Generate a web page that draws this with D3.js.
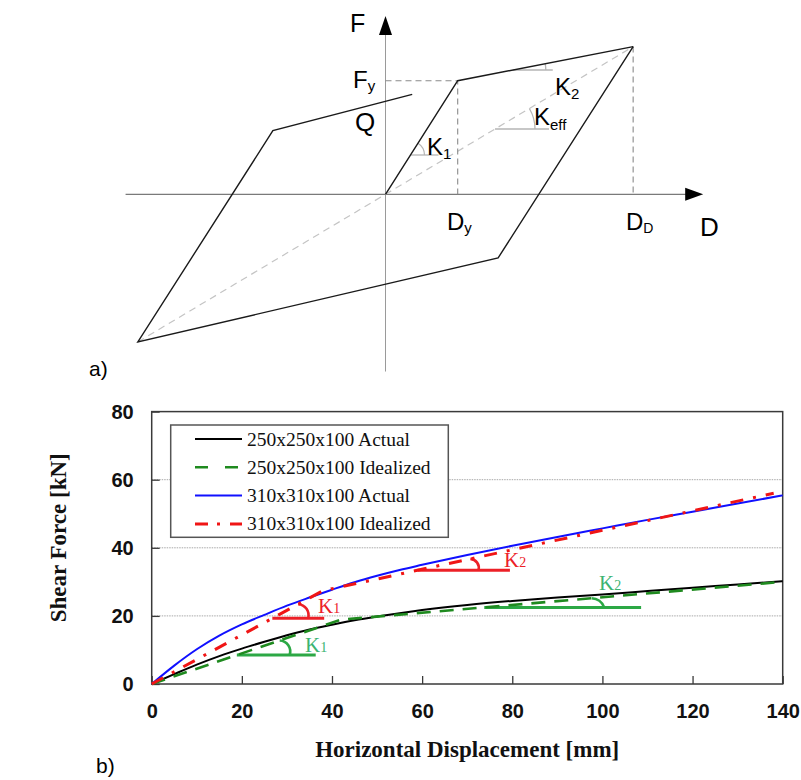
<!DOCTYPE html>
<html>
<head>
<meta charset="utf-8">
<script src="https://cdn.jsdelivr.net/npm/d3@7"></script>
<style>
  body { margin: 0; background: #fff; }
  svg { display: block; }
</style>
</head>
<body>
<svg id="fig" width="801" height="780"></svg>
<script>
// ---------- a) bilinear hysteresis model (normalised units: Dy = 1, Fy = 1) ----------
const backboneD = [0, 1, 3.43];
const backboneF = [0, 1, 1.30];
const loopD = [3.43, 1.56, -3.43, -1.56, 0.37];
const loopF = [1.30, -0.56, -1.30, 0.56, 0.88];

// ---------- b) shear force vs. horizontal displacement ----------
const dispTicks = [0, 20, 40, 60, 80, 100, 120, 140];
const forceTicks = [0, 20, 40, 60, 80];
const gridForces = [20, 40, 60];

const dispActual = [0, 5, 10, 15, 20, 25, 30, 35, 40, 45, 50, 55, 60, 70, 80, 90, 100, 110, 120, 130, 140];
const force250Actual = [0, 2.9, 5.7, 8.2, 10.4, 12.4, 14.3, 16.0, 17.4, 18.7, 19.8, 20.8, 21.7, 23.2, 24.4, 25.4, 26.3, 27.3, 28.3, 29.2, 30.2];
const force310Actual = [0, 5.4, 10.2, 14.2, 17.5, 20.3, 23.0, 25.4, 27.7, 29.9, 31.8, 33.5, 35.0, 37.9, 40.6, 43.2, 45.7, 48.2, 50.6, 53.0, 55.4];

const disp250Ideal = [0, 42, 140];
const force250Ideal = [0, 18.9, 30.0];
const disp310Ideal = [0, 38, 138];
const force310Ideal = [0, 27.4, 56.0];

const seriesNames = ["250x250x100 Actual", "250x250x100 Idealized", "310x310x100 Actual", "310x310x100 Idealized"];

const svg = d3.select("#fig");
const SANS = "'Liberation Sans', Arial, sans-serif";
const SERIF = "'Liberation Serif', 'Times New Roman', serif";

// =====================================================================
// a) schematic
// =====================================================================
const xD = d3.scaleLinear().domain([0, 1]).range([385.5, 457.7]);
const yF = d3.scaleLinear().domain([0, 1]).range([194.3, 80.7]);
const gA = svg.append("g");

// axes
gA.append("line").attr("x1", xD(0)).attr("x2", xD(0)).attr("y1", yF(-1.56)).attr("y2", yF(1.42))
  .attr("stroke", "#9a9a9a").attr("stroke-width", 1);
gA.append("line").attr("x1", xD(-3.6)).attr("x2", xD(4.2)).attr("y1", yF(0)).attr("y2", yF(0))
  .attr("stroke", "#7a7a7a").attr("stroke-width", 1.3);
// arrow heads
{
  const tipX = xD(4.4), y0 = yF(0);
  gA.append("path").attr("d", `M${tipX},${y0} L${tipX - 18},${y0 - 6.5} L${tipX - 18},${y0 + 6.5} Z`).attr("fill", "#000");
  const tipY = yF(1.57), x0 = xD(0);
  gA.append("path").attr("d", `M${x0},${tipY} L${x0 - 6.5},${tipY + 19} L${x0 + 6.5},${tipY + 19} Z`).attr("fill", "#000");
}

// effective stiffness secant (dashed, light)
gA.append("line")
  .attr("x1", xD(loopD[2])).attr("y1", yF(loopF[2]))
  .attr("x2", xD(backboneD[2])).attr("y2", yF(backboneF[2]))
  .attr("stroke", "#c4c4c4").attr("stroke-width", 1.2).attr("stroke-dasharray", "7,5");

// reference dashed lines Fy, Dy, DD
const refDash = g => g.attr("stroke", "#8a8a8a").attr("stroke-width", 1.1).attr("stroke-dasharray", "6,4").attr("fill", "none");
gA.append("path").attr("d", `M${xD(0)},${yF(1)} L${xD(1)},${yF(1)} L${xD(1)},${yF(0)}`).call(refDash);
gA.append("line").attr("x1", xD(backboneD[2])).attr("x2", xD(backboneD[2]))
  .attr("y1", yF(backboneF[2])).attr("y2", yF(0)).call(refDash);

// angle marks
const markStyle = g => g.attr("stroke", "#b5b5b5").attr("stroke-width", 1.3).attr("fill", "none");
function angleMark(vx, vy, len, r, slopePx) {
  const ang = Math.atan(slopePx);
  gA.append("line").attr("x1", vx).attr("x2", vx + len).attr("y1", vy).attr("y2", vy).call(markStyle);
  gA.append("path").attr("d", `M${vx + r},${vy} A${r},${r} 0 0 0 ${vx + r * Math.cos(ang)},${vy - r * Math.sin(ang)}`).call(markStyle);
}
{
  const k1px = (yF(0) - yF(1)) / (xD(1) - xD(0));
  const k2px = (yF(backboneF[1]) - yF(backboneF[2])) / (xD(backboneD[2]) - xD(backboneD[1]));
  const kEpx = (yF(0) - yF(backboneF[2])) / (xD(backboneD[2]) - xD(0));
  // K1 mark
  let vy = 155, vx = xD(0) + (yF(0) - vy) / k1px;
  angleMark(vx, vy, 28, 14, k1px);
  // K2 mark
  vy = 70; vx = xD(1) + (yF(1) - vy) / k2px;
  angleMark(vx, vy, 40, 33, k2px);
  // Keff mark
  vy = 129; vx = xD(0) + (yF(0) - vy) / kEpx;
  angleMark(vx, vy, 54, 40, kEpx);
}

// loop and backbone
const lineA = d3.line().x(d => xD(d[0])).y(d => yF(d[1]));
gA.append("path").attr("d", lineA(backboneD.map((d, i) => [d, backboneF[i]])))
  .attr("fill", "none").attr("stroke", "#1a1a1a").attr("stroke-width", 1.4);
gA.append("path").attr("d", lineA(loopD.map((d, i) => [d, loopF[i]])))
  .attr("fill", "none").attr("stroke", "#1a1a1a").attr("stroke-width", 1.4).attr("stroke-linejoin", "miter");

// labels
function subLabel(g, x, y, main, sub, size, subSize, subDy, family) {
  const t = g.append("text").attr("x", x).attr("y", y).attr("font-family", family).attr("font-size", size);
  t.append("tspan").text(main);
  t.append("tspan").attr("font-size", subSize).attr("dy", subDy).text(sub);
  return t;
}
gA.append("text").attr("x", 350).attr("y", 32).attr("font-family", SANS).attr("font-size", 25).text("F");
gA.append("text").attr("x", 700).attr("y", 236).attr("font-family", SANS).attr("font-size", 26).text("D");
gA.append("text").attr("x", 355).attr("y", 131).attr("font-family", SANS).attr("font-size", 26).text("Q");
subLabel(gA, 353, 88, "F", "y", 24, 15, 3, SANS);
subLabel(gA, 427, 155, "K", "1", 24, 15, 4, SANS);
subLabel(gA, 555, 95, "K", "2", 24, 15, 4, SANS);
subLabel(gA, 534, 125, "K", "eff", 24, 15, 5, SANS);
subLabel(gA, 447, 230, "D", "y", 24, 15, 3, SANS);
subLabel(gA, 626, 230, "D", "D", 24, 14, 3, SANS);
svg.append("text").attr("x", 89).attr("y", 376).attr("font-family", SANS).attr("font-size", 21).text("a)");
svg.append("text").attr("x", 96).attr("y", 773).attr("font-family", SANS).attr("font-size", 21).text("b)");

// =====================================================================
// b) chart
// =====================================================================
const x = d3.scaleLinear().domain([0, 140]).range([151.7, 782.7]);
const y = d3.scaleLinear().domain([0, 80]).range([684, 411.6]);
const gB = svg.append("g");

// dotted grid
gB.selectAll(".grid").data(gridForces).join("line")
  .attr("x1", x(0)).attr("x2", x(140)).attr("y1", d => y(d)).attr("y2", d => y(d))
  .attr("stroke", "#a8a8a8").attr("stroke-width", 1).attr("stroke-dasharray", "1.5,1");

// axes with inward ticks
const yAxis = gB.append("g").attr("transform", `translate(${x(0)},0)`)
  .call(d3.axisLeft(y).tickValues(forceTicks).tickSizeInner(-8).tickSizeOuter(0).tickPadding(18));
const xAxis = gB.append("g").attr("transform", `translate(0,${y(0)})`)
  .call(d3.axisBottom(x).tickValues(dispTicks).tickSizeInner(-8).tickSizeOuter(0).tickPadding(20));
[yAxis, xAxis].forEach(a => {
  a.select(".domain").remove();
  a.selectAll(".tick line").attr("stroke", "#3a3a3a").attr("stroke-width", 1.3);
  a.selectAll(".tick text").attr("font-family", SANS).attr("font-weight", "bold")
    .attr("font-size", 20).attr("fill", "#111");
});

// frame
gB.append("rect").attr("x", x(0)).attr("y", y(80)).attr("width", x(140) - x(0)).attr("height", y(0) - y(80))
  .attr("fill", "none").attr("stroke", "#3a3a3a").attr("stroke-width", 1.5);

// axis titles
gB.append("text").attr("x", x(70)).attr("y", 757).attr("text-anchor", "middle")
  .attr("font-family", SERIF).attr("font-weight", "bold").attr("font-size", 23).attr("fill", "#111")
  .text("Horizontal Displacement [mm]");
gB.append("text").attr("transform", `translate(66,${y(40) - 10}) rotate(-90)`).attr("text-anchor", "middle")
  .attr("font-family", SERIF).attr("font-weight", "bold").attr("font-size", 23).attr("fill", "#111")
  .text("Shear Force [kN]");

// series styles
const styles = [
  { color: "#000000", width: 2, dash: null },
  { color: "#1f8a1f", width: 2.6, dash: "14,9" },
  { color: "#1010ff", width: 2, dash: null },
  { color: "#f01515", width: 3, dash: "13,10,3,10" }
];

const curve = d3.line().x(d => x(d[0])).y(d => y(d[1])).curve(d3.curveMonotoneX);
const straight = d3.line().x(d => x(d[0])).y(d => y(d[1]));
const seriesData = [
  { pts: dispActual.map((d, i) => [d, force250Actual[i]]), gen: curve },
  { pts: disp250Ideal.map((d, i) => [d, force250Ideal[i]]), gen: straight },
  { pts: dispActual.map((d, i) => [d, force310Actual[i]]), gen: curve },
  { pts: disp310Ideal.map((d, i) => [d, force310Ideal[i]]), gen: straight }
];

// stiffness annotations (drawn under the curves)
const redK = "#ec2027", greenK = "#2ca845", greenTxt = "#3cb371";
function kMark(ideal, segIdx, force, lenMm, color, arcX, arcR) {
  // vertex where the horizontal reference meets the idealized segment
  const [d0, f0] = ideal[segIdx], [d1, f1] = ideal[segIdx + 1];
  const s = (f1 - f0) / (d1 - d0);
  const vd = d0 + (force - f0) / s;
  const vx = x(vd), vy = y(force);
  gB.append("line").attr("x1", vx).attr("x2", x(vd + lenMm)).attr("y1", vy).attr("y2", vy)
    .attr("stroke", color).attr("stroke-width", 3);
  const topD = arcX - 2.2 * (arcR / 11);
  const topY = y(f0 + s * (topD - d0));
  gB.append("path").attr("d", `M${x(topD)},${topY} A${arcR},${arcR} 0 0 1 ${x(arcX)},${vy}`)
    .attr("fill", "none").attr("stroke", color).attr("stroke-width", 2.6);
}
const ideal250 = disp250Ideal.map((d, i) => [d, force250Ideal[i]]);
const ideal310 = disp310Ideal.map((d, i) => [d, force310Ideal[i]]);
kMark(ideal310, 0, 19.3, 11.5, redK, 34.7, 11);
kMark(ideal250, 0, 8.5, 17.5, greenK, 30.6, 11);
kMark(ideal310, 1, 33.4, 20.5, redK, 72.5, 9);
kMark(ideal250, 1, 22.5, 34.8, greenK, 100.4, 14);

seriesData.forEach((s, i) => {
  const p = gB.append("path").attr("d", s.gen(s.pts)).attr("fill", "none")
    .attr("stroke", styles[i].color).attr("stroke-width", styles[i].width);
  if (styles[i].dash) p.attr("stroke-dasharray", styles[i].dash);
});

// K labels
subLabel(gB, 318, 613, "K", "1", 21, 14, 0, SERIF).attr("fill", redK);
subLabel(gB, 305, 652, "K", "1", 21, 14, 0, SERIF).attr("fill", greenTxt);
subLabel(gB, 504, 567, "K", "2", 21, 14, 0, SERIF).attr("fill", redK);
subLabel(gB, 599, 590, "K", "2", 21, 14, 0, SERIF).attr("fill", greenTxt);

// legend
const lg = gB.append("g");
lg.append("rect").attr("x", 170.7).attr("y", 425).attr("width", 277.6).attr("height", 112.3)
  .attr("fill", "#fff").attr("stroke", "#555").attr("stroke-width", 1.5);
seriesNames.forEach((name, i) => {
  const ry = 439 + i * 28.3;
  const l = lg.append("line").attr("x1", 195).attr("x2", 242).attr("y1", ry).attr("y2", ry)
    .attr("stroke", styles[i].color).attr("stroke-width", styles[i].width);
  if (i === 1) l.attr("stroke-dasharray", "13,17");
  if (i === 3) l.attr("stroke-dasharray", "13,9,3,10");
  lg.append("text").attr("x", 247).attr("y", ry + 6.5).attr("font-family", SERIF)
    .attr("font-size", 19.5).attr("fill", "#111").text(name);
});
</script>
</body>
</html>
